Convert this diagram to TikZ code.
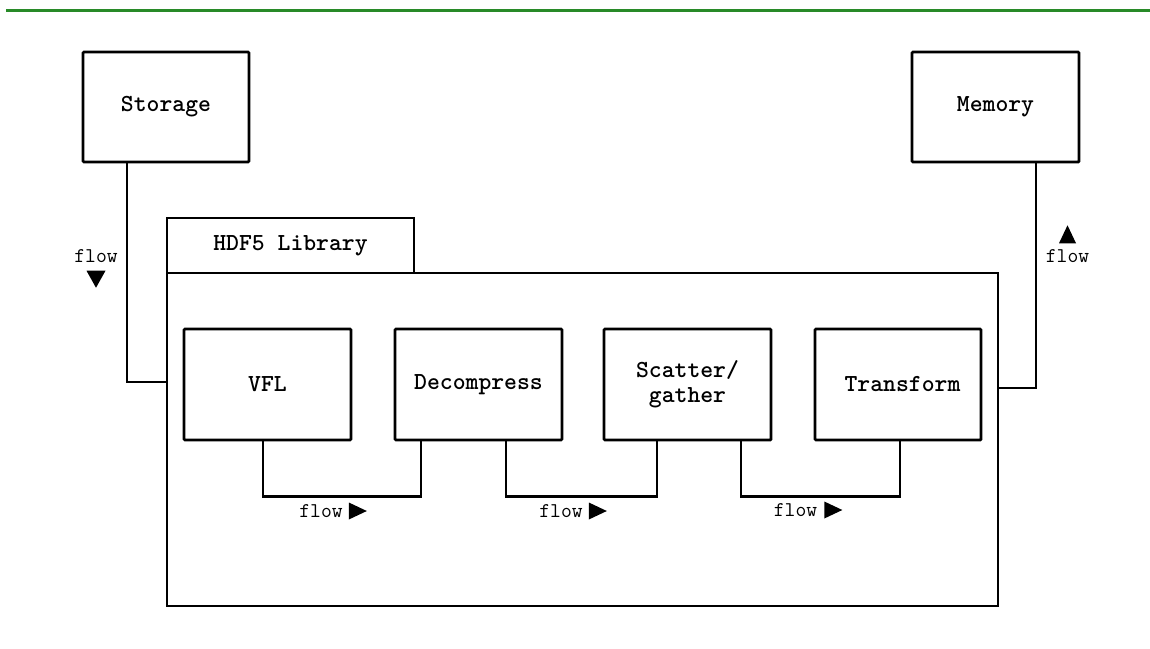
\documentclass[tikz,border=0pt]{standalone}
\usetikzlibrary{calc}
\definecolor{topgreen}{RGB}{40,138,40}
\begin{document}
\begin{tikzpicture}[x=1pt,y=-1pt,
  box/.style={draw, line width=2.8pt, rounded corners=1pt, align=center, inner sep=0pt,
    font=\ttfamily\bfseries\fontsize{24.5}{25}\selectfont},
  flowlab/.style={font=\ttfamily\fontsize{21}{22}\selectfont, inner sep=0pt},
  conn/.style={line width=2.8pt},
  tri/.style={fill=black}]
\useasboundingbox (0,0) rectangle (1150,648);
\draw[topgreen, line width=3.5pt] (6,10.5) -- (1150,10.5);

% top boxes
\node[box, minimum width=166pt, minimum height=110pt] (sto) at (166,107) {Storage};
\node[box, minimum width=167pt, minimum height=110pt] (mem) at (995.5,107) {Memory};

% library
\node[box, rounded corners=0pt, minimum width=831pt, minimum height=333pt] (lib) at (582.5,439.5) {};
\node[box, rounded corners=0pt, minimum width=247pt, minimum height=55pt] (tab) at (290.5,245.5) {HDF5 Library};

% inner boxes
\node[box, minimum width=167pt, minimum height=111pt] (vfl) at (267.5,384.5) {VFL};
\node[box, minimum width=167pt, minimum height=111pt] (dec) at (478.5,384.5) {Decompress};
\node[box, minimum width=167pt, minimum height=111pt] (sca) at (687.5,384.5) {Scatter/\\gather};
\node[box, minimum width=166pt, minimum height=111pt] (tra) at (898,384.5) {\hspace*{9pt}Transform};

% connectors
\draw[conn] ([xshift=-39pt]sto.south) |- ([yshift=57.5pt]lib.west);
\draw[conn] ([xshift=40.5pt]mem.south) |- ([yshift=51.5pt]lib.east);
\draw[conn] ([xshift=-4.5pt]vfl.south) -- ++(0,55) -| ([xshift=-57.5pt]dec.south);
\draw[conn] ([xshift=27.5pt]dec.south) -- ++(0,55) -| ([xshift=-30.5pt]sca.south);
\draw[conn] ([xshift=53.5pt]sca.south) -- ++(0,55) -| ([xshift=2pt]tra.south);

% flow labels
\node[flowlab] (f1) at (321,511) {flow};
\node[flowlab] (f2) at (561,511) {flow};
\node[flowlab] (f3) at (795.5,510) {flow};
\node[flowlab] (fs) at (96,256) {flow};
\node[flowlab] (fm) at (1067.5,256) {flow};

\fill[tri] ($(f1.east)+(6,-8.5)$) -- ++(18,8.5) -- ++(-18,8.5) -- cycle;
\fill[tri] ($(f2.east)+(6,-8.5)$) -- ++(18,8.5) -- ++(-18,8.5) -- cycle;
\fill[tri] ($(f3.east)+(7,-8.5)$) -- ++(18,8.5) -- ++(-18,8.5) -- cycle;
\fill[tri] ($(fs.south)+(-9.5,8)$) -- ++(19,0) -- ++(-9.5,17) -- cycle;
\fill[tri] ($(fm.north)+(-8.5,-6)$) -- ++(17,0) -- ++(-8.5,-18) -- cycle;
\end{tikzpicture}
\end{document}
